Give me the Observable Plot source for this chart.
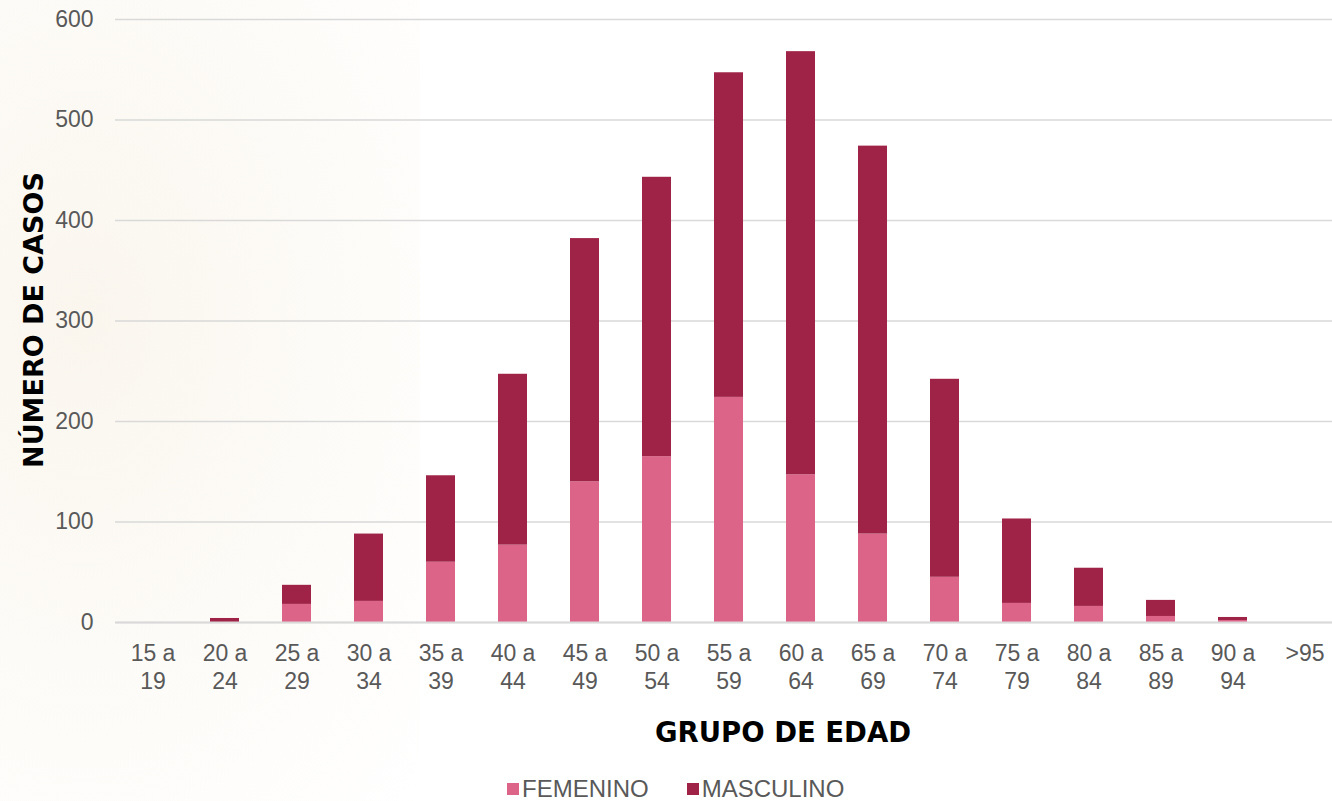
<!DOCTYPE html>
<html>
<head>
<meta charset="utf-8">
<script src="https://cdn.jsdelivr.net/npm/d3@7"></script>
<script src="https://cdn.jsdelivr.net/npm/@observablehq/plot@0.6"></script>
<style>
  html, body { margin: 0; padding: 0; background: #ffffff; }
  body { width: 1332px; height: 801px; overflow: hidden; position: relative; font-family: "Liberation Sans", Arial, sans-serif; }
  #bg { position: absolute; left: 0; top: 0; width: 420px; height: 801px;
        background: radial-gradient(ellipse at 20% 40%, #faf6ee 0%, #fdfbf7 50%, #ffffff 100%); }
  #chart { position: absolute; left: 0; top: 0; }
  #ylabel { position: absolute; left: 33px; top: 320px; transform: translate(-50%, -50%) rotate(-90deg);
            white-space: nowrap; font-family: "DejaVu Sans", sans-serif; font-weight: bold; font-size: 27px; color: #000; }
  #xlabel { position: absolute; left: 783px; top: 732px; transform: translate(-50%, -50%);
            white-space: nowrap; font-family: "DejaVu Sans", sans-serif; font-weight: bold; font-size: 27.5px; color: #000; }
  #legend { position: absolute; left: 507px; top: 775px; display: flex; gap: 38px; font-size: 24px; color: #595959; line-height: 28px; }
  .item { display: flex; align-items: center; }
  .sw { width: 12px; height: 12px; margin-right: 3px; display: inline-block; }
</style>
</head>
<body>
<div id="bg"></div>
<div id="chart"></div>
<div id="ylabel">NÚMERO DE CASOS</div>
<div id="xlabel">GRUPO DE EDAD</div>
<div id="legend"></div>
<script>
const grupos = ["15 a 19","20 a 24","25 a 29","30 a 34","35 a 39","40 a 44","45 a 49","50 a 54","55 a 59","60 a 64","65 a 69","70 a 74","75 a 79","80 a 84","85 a 89","90 a 94",">95"];
const femenino = [0, 0, 18, 21, 60, 77, 140, 165, 224, 147, 88, 45, 19, 16, 6, 2, 0];
const masculino = [0, 4, 19, 67, 86, 170, 242, 278, 323, 421, 386, 197, 84, 38, 16, 3, 0];
const series = ["FEMENINO", "MASCULINO"];
const colores = ["#DD6489", "#9F2247"];
const yTicks = [0, 100, 200, 300, 400, 500, 600];

const data = [];
grupos.forEach((g, i) => {
  data.push({grupo: g, sexo: series[0], casos: femenino[i]});
  data.push({grupo: g, sexo: series[1], casos: masculino[i]});
});

const chart = Plot.plot({
  width: 1332,
  height: 700,
  marginTop: 19,
  marginBottom: 78,
  marginLeft: 115,
  marginRight: -9,
  style: {fontFamily: "'Liberation Sans', Arial, sans-serif", fontSize: "23px", color: "#595959", background: "transparent", overflow: "visible"},
  x: {domain: grupos, paddingInner: 0.6, paddingOuter: 0.3, label: null},
  y: {domain: [0, 600], label: null},
  color: {domain: series, range: colores},
  marks: [
    Plot.gridY(yTicks, {stroke: "#d9d9d9", strokeOpacity: 1, strokeWidth: 1.5}),
    Plot.barY(data, {x: "grupo", y: "casos", fill: "sexo"}),
    Plot.ruleY([0], {stroke: "#d9d9d9", strokeWidth: 2}),
    Plot.axisY({ticks: yTicks, tickSize: 0, tickPadding: 22, fontSize: 23, fill: "#595959", label: null}),
    Plot.axisX({tickSize: 0, tickPadding: 19, fontSize: 23, fill: "#595959", lineHeight: 1.22,
                tickFormat: d => d.replace(" a ", " a\n"), label: null})
  ]
});
document.getElementById("chart").appendChild(chart);

const legend = document.getElementById("legend");
series.forEach((s, i) => {
  const it = document.createElement("div");
  it.className = "item";
  it.innerHTML = `<span class="sw" style="background:${colores[i]}"></span>${s}`;
  legend.appendChild(it);
});
</script>
</body>
</html>
